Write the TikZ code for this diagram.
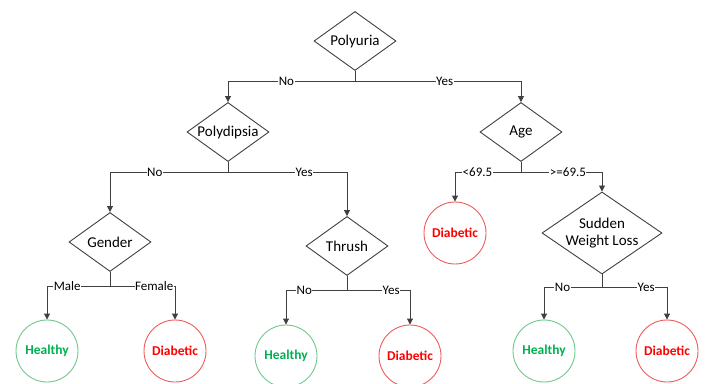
\documentclass[tikz,border=0pt]{standalone}
\usepackage{fontspec}
\setmainfont{Carlito}
\usepackage{tikz}
\usetikzlibrary{shapes.geometric,arrows.meta,calc}

\definecolor{lineGray}{RGB}{64,64,64}
\definecolor{okGreen}{RGB}{0,176,80}
\definecolor{okRing}{RGB}{110,200,140}
\definecolor{badRed}{RGB}{255,0,0}
\definecolor{badRing}{RGB}{240,90,90}

\begin{document}
\begin{tikzpicture}[x=1pt, y=-1pt,
  test/.style={diamond, draw=lineGray, line width=0.9pt, aspect=1.4, inner sep=0pt,
    minimum width=82pt, minimum height=59pt, font=\fontsize{15}{17}\selectfont, text=black},
  healthy/.style={circle, draw=okRing, line width=0.9pt, minimum size=62pt, inner sep=0pt,
    font=\fontsize{13.5}{15}\selectfont\bfseries, text=okGreen},
  diabetic/.style={circle, draw=badRing, line width=0.9pt, minimum size=62pt, inner sep=0pt,
    font=\fontsize{13.5}{15}\selectfont\bfseries, text=badRed},
  edge/.style={draw=lineGray, line width=0.9pt, -{Triangle[width=6pt,length=6pt]}},
  stub/.style={draw=lineGray, line width=0.9pt},
  lbl/.style={fill=white, inner sep=0.5pt, font=\fontsize{13}{14}\selectfont, text=black}]
\useasboundingbox (0,0) rectangle (709,383);

% Decision nodes
\node[test] (polyuria) at (355,41) {Polyuria};
\node[test] (polydipsia) at (228,132) {Polydipsia};
\node[test] (age) at (521,132) {Age};
\node[test] (gender) at (110,242) {Gender};
\node[test] (thrush) at (347,246) {Thrush};
\node[test, minimum width=120pt, minimum height=78pt, align=center] (weight) at (602,233) {Sudden\\Weight Loss};

% Leaves
\node[healthy] (gMale) at (47,351) {Healthy};
\node[diabetic] (gFemale) at (175,351) {Diabetic};
\node[healthy] (tNo) at (286,356) {Healthy};
\node[diabetic] (tYes) at (410,356) {Diabetic};
\node[diabetic] (ageLow) at (455,233) {Diabetic};
\node[healthy] (wNo) at (544,351) {Healthy};
\node[diabetic] (wYes) at (667,351) {Diabetic};

% Branch points
\coordinate (bPolyuria) at (polyuria.south |- 0,81);
\coordinate (bPolydipsia) at (polydipsia.south |- 0,172);
\coordinate (bAge) at (age.south |- 0,172);
\coordinate (bGender) at (gender.south |- 0,286);
\coordinate (bThrush) at (thrush.south |- 0,290);
\coordinate (bWeight) at (weight.south |- 0,287);

% Connectors
\draw[stub] (polyuria.south) -- (bPolyuria);
\draw[edge] (bPolyuria) -| node[lbl, pos=0.27] {No} (polydipsia.north);
\draw[edge] (bPolyuria) -| node[lbl, pos=0.27] {Yes} (age.north);

\draw[stub] (polydipsia.south) -- (bPolydipsia);
\draw[edge] (bPolydipsia) -| node[lbl, pos=0.31] {No} (gender.north);
\draw[edge] (bPolydipsia) -| node[lbl, pos=0.32] {Yes} (thrush.north);

\draw[stub] (age.south) -- (bAge);
\draw[edge] (bAge) -| node[lbl, pos=0.33] {<69.5} (ageLow.north);
\draw[edge] (bAge) -| node[lbl, pos=0.29] {>=69.5} (weight.north);

\draw[stub] (gender.south) -- (bGender);
\draw[edge] (bGender) -| node[lbl, pos=0.34] {Male} (gMale.north);
\draw[edge] (bGender) -| node[lbl, pos=0.34] {Female} (gFemale.north);

\draw[stub] (thrush.south) -- (bThrush);
\draw[edge] (bThrush) -| node[lbl, pos=0.35] {No} (tNo.north);
\draw[edge] (bThrush) -| node[lbl, pos=0.35] {Yes} (tYes.north);

\draw[stub] (weight.south) -- (bWeight);
\draw[edge] (bWeight) -| node[lbl, pos=0.34] {No} (wNo.north);
\draw[edge] (bWeight) -| node[lbl, pos=0.34] {Yes} (wYes.north);

\end{tikzpicture}
\end{document}
